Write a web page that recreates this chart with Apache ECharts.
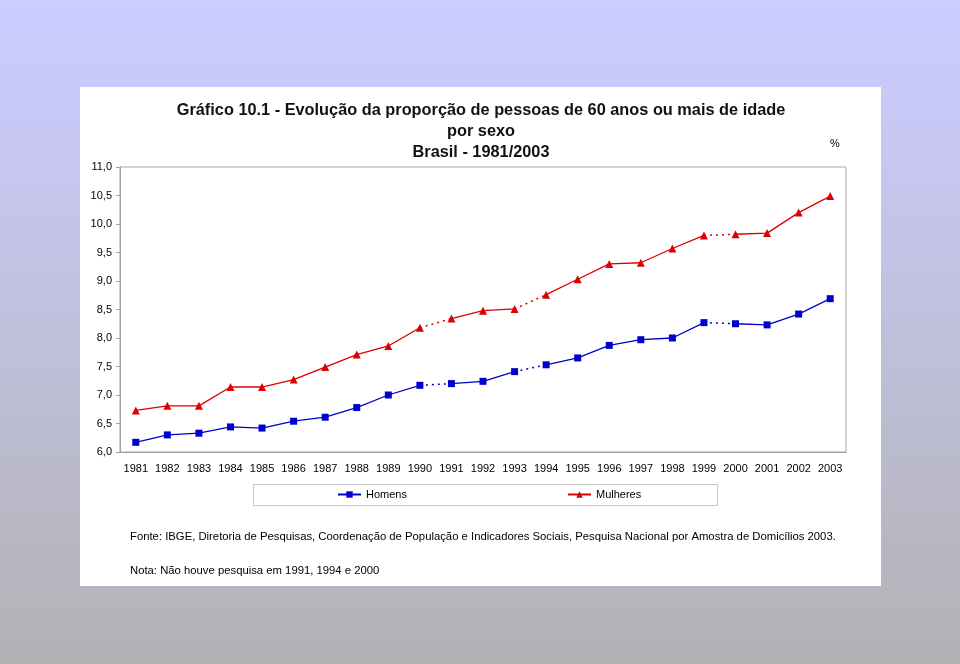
<!DOCTYPE html>
<html>
<head>
<meta charset="utf-8">
<script src="https://cdn.jsdelivr.net/npm/echarts@6/dist/echarts.min.js"></script>
<style>
html,body{margin:0;padding:0;}
#c{width:960px;height:664px;}
</style>
</head>
<body>
<div id="c"></div>
<script>
var years = ['1981','1982','1983','1984','1985','1986','1987','1988','1989','1990','1991','1992','1993','1994','1995','1996','1997','1998','1999','2000','2001','2002','2003'];
var homens = [6.17,6.30,6.33,6.44,6.42,6.54,6.61,6.78,7.00,7.17,7.20,7.24,7.41,7.53,7.65,7.87,7.97,8.00,8.27,8.25,8.23,8.42,8.69];
var mulheres = [6.73,6.81,6.81,7.14,7.14,7.27,7.49,7.71,7.86,8.18,8.34,8.48,8.51,8.76,9.03,9.30,9.32,9.57,9.80,9.82,9.84,10.20,10.49];
var gapAfter = [9, 12, 18]; // dotted segment between index i and i+1
var yTicks = {min: 6, max: 11, interval: 0.5};

var FONT = 'Liberation Sans, Arial, sans-serif';

function segments(n, gaps) {
  var segs = [], start = 0;
  gaps.forEach(function (g) { segs.push([start, g]); start = g + 1; });
  segs.push([start, n - 1]);
  return segs;
}

function buildSeries(name, values, color, symbol, symbolSize) {
  var out = [];
  segments(values.length, gapAfter).forEach(function (s) {
    out.push({
      name: name, type: 'line', z: 3,
      data: values.map(function (v, i) { return (i >= s[0] && i <= s[1]) ? v : null; }),
      symbol: symbol, symbolSize: symbolSize, showAllSymbol: true,
      lineStyle: {color: color, width: 1.3},
      itemStyle: {color: color},
      emphasis: {disabled: true},
      animation: false
    });
  });
  out.push({
    name: name, type: 'line', z: 2,
    data: values.map(function (v, i) {
      for (var k = 0; k < gapAfter.length; k++) {
        if (i === gapAfter[k] || i === gapAfter[k] + 1) return v;
      }
      return null;
    }),
    showSymbol: false,
    lineStyle: {color: color, width: 1.5, type: [2, 4]},
    itemStyle: {color: color},
    emphasis: {disabled: true},
    animation: false
  });
  return out;
}

var series = [].concat(
  buildSeries('Homens', homens, '#0000cc', 'rect', 7),
  buildSeries('Mulheres', mulheres, '#dd0000', 'triangle', 8)
);

var titleFont = 'bold 17px ' + FONT;

var chart = echarts.init(document.getElementById('c'));
chart.setOption({
  animation: false,
  backgroundColor: {
    type: 'linear', x: 0, y: 0, x2: 0, y2: 1,
    colorStops: [
      {offset: 0, color: '#ccccff'},
      {offset: 0.15, color: '#c9c9f8'},
      {offset: 1, color: '#b2b2b4'}
    ]
  },
  grid: {left: 120, right: 114, top: 167, bottom: 212, show: true, borderColor: '#a6a6a6', borderWidth: 1, backgroundColor: 'transparent'},
  xAxis: {
    type: 'category', data: years, boundaryGap: true,
    axisLine: {lineStyle: {color: '#a0a0a0'}},
    axisTick: {length: 4, lineStyle: {color: '#a0a0a0'}},
    axisLabel: {color: '#000', fontFamily: FONT, fontSize: 11, margin: 11, interval: 0},
    splitLine: {show: false}
  },
  yAxis: {
    type: 'value', min: yTicks.min, max: yTicks.max, interval: yTicks.interval,
    axisLine: {show: true, lineStyle: {color: '#a0a0a0'}},
    axisTick: {show: true, length: 4, lineStyle: {color: '#a0a0a0'}},
    axisLabel: {color: '#000', fontFamily: FONT, fontSize: 11, margin: 8,
      formatter: function (v) { return v.toFixed(1).replace('.', ','); }},
    splitLine: {show: false}
  },
  legend: [
    {data: ['Homens'], left: 332, top: 484, itemWidth: 23, itemHeight: 8, itemGap: 0,
     textStyle: {fontFamily: FONT, fontSize: 11, color: '#000'}, selectedMode: false},
    {data: ['Mulheres'], left: 562, top: 484, itemWidth: 23, itemHeight: 8, itemGap: 0,
     textStyle: {fontFamily: FONT, fontSize: 11, color: '#000'}, selectedMode: false}
  ],
  graphic: [
    {type: 'rect', z: -10, silent: true, shape: {x: 80, y: 87, width: 801, height: 499}, style: {fill: '#ffffff'}},
    {type: 'rect', z: -5, silent: true, shape: {x: 253.5, y: 484.5, width: 464, height: 21}, style: {fill: '#ffffff', stroke: '#c8c8c8', lineWidth: 1}},
    {type: 'text', z: 10, x: 481, y: 110, scaleX: 0.96, style: {text: 'Gráfico 10.1 - Evolução da proporção de pessoas de 60 anos ou mais de idade', font: titleFont, fill: '#111', align: 'center', verticalAlign: 'middle'}},
    {type: 'text', z: 10, x: 481, y: 131, scaleX: 0.96, style: {text: 'por sexo', font: titleFont, fill: '#111', align: 'center', verticalAlign: 'middle'}},
    {type: 'text', z: 10, x: 481, y: 152, scaleX: 0.96, style: {text: 'Brasil - 1981/2003', font: titleFont, fill: '#111', align: 'center', verticalAlign: 'middle'}},
    {type: 'text', z: 10, x: 835, y: 144, style: {text: '%', font: '11px ' + FONT, fill: '#000', align: 'center', verticalAlign: 'middle'}},
    {type: 'text', z: 10, x: 130, y: 537, style: {text: 'Fonte: IBGE, Diretoria de Pesquisas, Coordenação de População e Indicadores Sociais, Pesquisa Nacional por Amostra de Domicílios 2003.', font: '11.3px ' + FONT, fill: '#000', align: 'left', verticalAlign: 'middle'}},
    {type: 'text', z: 10, x: 130, y: 571, style: {text: 'Nota: Não houve pesquisa em 1991, 1994 e 2000', font: '11.3px ' + FONT, fill: '#000', align: 'left', verticalAlign: 'middle'}}
  ],
  series: series
});
</script>
</body>
</html>
